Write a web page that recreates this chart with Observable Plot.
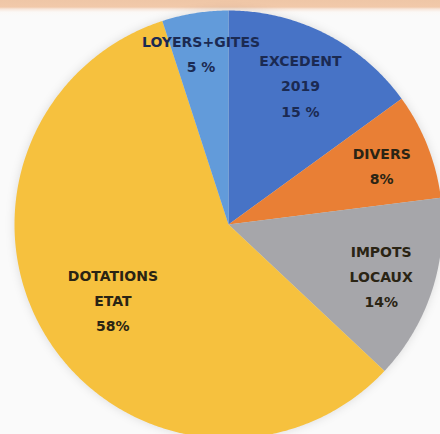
<!DOCTYPE html>
<html><head><meta charset="utf-8">
<script src="https://cdn.jsdelivr.net/npm/d3@7"></script>
<script src="https://cdn.jsdelivr.net/npm/@observablehq/plot@0.6"></script>
<style>
html,body{margin:0;padding:0;}
body{width:440px;height:434px;overflow:hidden;background:linear-gradient(to bottom,#efc6a6 0px,#f1c9aa 7px,#f7e6da 9px,#fbf8f6 12px,#fafafa 16px);}
#chart svg{display:block;background:transparent;}
</style></head><body><div id="chart"></div><script>
const categories = ["EXCEDENT 2019", "DIVERS", "IMPOTS LOCAUX", "DOTATIONS ETAT", "LOYERS+GITES"];
const values = [15, 8, 14, 58, 5];
const labels = ["EXCEDENT\n2019\n15 %", "DIVERS\n8%", "IMPOTS\nLOCAUX\n14%", "DOTATIONS\nETAT\n58%", "LOYERS+GITES\n5 %"];
const colors = ["#4773c6", "#e97f35", "#a6a6aa", "#f6c13e", "#629bda"];

// layout (not data)
const W = 440, H = 434, cx = 228, cy = 224, R = 214;
const labelRadius = [0.74, 0.77, 0.75, 0.64, 0.82];
const blueSlices = new Set(["EXCEDENT 2019", "LOYERS+GITES"]);

const total = d3.sum(values);
let acc = 0;
const slices = categories.map((c, i) => {
  const a0 = acc / total * 2 * Math.PI;
  acc += values[i];
  const a1 = acc / total * 2 * Math.PI;
  return {cat: c, a0, a1, label: labels[i], lr: labelRadius[i]};
});

// polygon outline of each slice in unit coordinates (angle clockwise from top)
const pts = [];
for (const s of slices) {
  pts.push({cat: s.cat, u: 0, v: 0});
  const n = Math.max(2, Math.ceil((s.a1 - s.a0) / (Math.PI / 360)));
  for (let k = 0; k <= n; k++) {
    const a = s.a0 + (s.a1 - s.a0) * k / n;
    pts.push({cat: s.cat, u: Math.sin(a), v: Math.cos(a)});
  }
}
const labelPts = slices.map(s => {
  const m = (s.a0 + s.a1) / 2;
  return {cat: s.cat, label: s.label, u: s.lr * Math.sin(m), v: s.lr * Math.cos(m)};
});

const textOpts = {x: "u", y: "v", text: "label", fontSize: 14, fontWeight: "bold",
  fontFamily: "DejaVu Sans", lineHeight: 1.8, lineAnchor: "middle"};

const chart = Plot.plot({
  width: W, height: H,
  margin: 0,
  style: {background: "transparent", overflow: "visible"},
  x: {domain: [-cx / R, (W - cx) / R], axis: null},
  y: {domain: [(cy - H) / R, cy / R], axis: null},
  color: {domain: categories, range: colors},
  marks: [
    Plot.line(pts, {x: "u", y: "v", z: "cat", fill: "cat", stroke: "none", curve: "linear-closed"}),
    Plot.text(labelPts.filter(d => !blueSlices.has(d.cat)), {...textOpts, fill: "#2a2414"}),
    Plot.text(labelPts.filter(d => blueSlices.has(d.cat)), {...textOpts, fill: "#1b2a52"})
  ]
});
document.getElementById("chart").appendChild(chart);
d3.select(chart).selectAll("g[aria-label=line]").style("filter", "drop-shadow(0 0 5px rgba(0,0,0,0.12))");
</script></body></html>
